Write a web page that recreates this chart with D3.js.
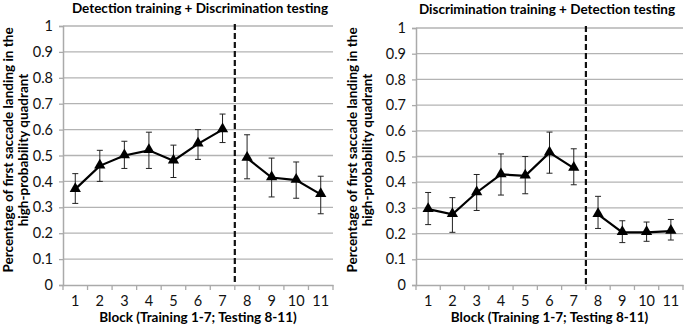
<!DOCTYPE html>
<html><head><meta charset="utf-8">
<script src="https://cdn.jsdelivr.net/npm/d3@7"></script>
<style>body{margin:0;background:#fff}svg{display:block}</style>
</head><body>
<svg id="c" width="685" height="325"></svg>
<script>
const blocks = [1,2,3,4,5,6,7,8,9,10,11];
const yTicks = [0,0.1,0.2,0.3,0.4,0.5,0.6,0.7,0.8,0.9,1];
const titleLeft = "Detection training + Discrimination testing";
const titleRight = "Discrimination training + Detection testing";
const xTitle = "Block (Training 1-7; Testing 8-11)";
const yTitle1 = "Percentage of first saccade landing in the";
const yTitle2 = "high-probability quadrant";
const leftMean = [0.37,0.46,0.50,0.52,0.48,0.545,0.60,0.49,0.415,0.405,0.35];
const leftLow  = [0.315,0.40,0.45,0.45,0.415,0.485,0.55,0.41,0.34,0.335,0.275];
const leftHigh = [0.43,0.52,0.555,0.59,0.54,0.60,0.66,0.58,0.49,0.475,0.42];
const rightMean = [0.295,0.275,0.36,0.43,0.425,0.515,0.455,0.275,0.205,0.205,0.21];
const rightLow  = [0.235,0.205,0.29,0.35,0.355,0.435,0.39,0.22,0.165,0.17,0.175];
const rightHigh = [0.36,0.34,0.43,0.51,0.50,0.595,0.53,0.345,0.25,0.245,0.255];

const svg = d3.select("#c");
const font = "Lato, 'Open Sans', sans-serif";

function panel(cfg){
  const g = svg.append("g");
  const x = d3.scaleBand().domain(blocks).range([cfg.x0, cfg.x1]);
  const y = d3.scaleLinear().domain([0,1]).range([cfg.y0, cfg.y1]);
  g.append("g").selectAll("line").data(yTicks.slice(1)).join("line")
    .attr("x1", cfg.x0).attr("x2", cfg.x1)
    .attr("y1", d=>y(d)).attr("y2", d=>y(d))
    .attr("stroke","#b3b3b3").attr("stroke-width",1.3);
  const ya = g.append("g").attr("transform",`translate(${cfg.x0},0)`)
    .call(d3.axisLeft(y).tickValues(yTicks).tickSize(4).tickPadding(6).tickFormat(d=>d3.format("")(d)));
  ya.select(".domain").attr("stroke","#aaaaaa").attr("stroke-width",1.5);
  ya.selectAll(".tick line").attr("stroke","#aaaaaa").attr("stroke-width",1.3);
  ya.selectAll("text").attr("font-family",font).attr("font-size",14.5).attr("fill","#111");
  const xa = g.append("g").attr("transform",`translate(0,${cfg.y0})`)
    .call(d3.axisBottom(x).tickSize(0).tickPadding(11));
  xa.select(".domain").attr("stroke","#aaaaaa").attr("stroke-width",1.5);
  xa.selectAll("text").attr("font-family",font).attr("font-size",14.5).attr("fill","#111");
  const bounds = blocks.map(b=>x(b)).concat([cfg.x1]);
  g.append("g").selectAll("line").data(bounds).join("line")
    .attr("x1",d=>d).attr("x2",d=>d).attr("y1",cfg.y0).attr("y2",cfg.y0+5)
    .attr("stroke","#aaaaaa").attr("stroke-width",1.3);
  const dx = x(8);
  g.append("line").attr("x1",dx).attr("x2",dx).attr("y1",cfg.y1-2).attr("y2",cfg.y0)
    .attr("stroke","#111").attr("stroke-width",2.2).attr("stroke-dasharray","6,3");
  const cx = b=>x(b)+x.bandwidth()/2;
  const pts = blocks.map((b,i)=>({b, m:cfg.mean[i], lo:cfg.low[i], hi:cfg.high[i]}));
  const eb = g.append("g").attr("stroke","#222").attr("stroke-width",1);
  eb.selectAll("line.v").data(pts).join("line").attr("class","v")
    .attr("x1",d=>cx(d.b)).attr("x2",d=>cx(d.b)).attr("y1",d=>y(d.lo)).attr("y2",d=>y(d.hi));
  eb.selectAll("line.t").data(pts).join("line").attr("class","t")
    .attr("x1",d=>cx(d.b)-3).attr("x2",d=>cx(d.b)+3).attr("y1",d=>y(d.hi)).attr("y2",d=>y(d.hi));
  eb.selectAll("line.l").data(pts).join("line").attr("class","l")
    .attr("x1",d=>cx(d.b)-3).attr("x2",d=>cx(d.b)+3).attr("y1",d=>y(d.lo)).attr("y2",d=>y(d.lo));
  const line = d3.line().x(d=>cx(d.b)).y(d=>y(d.m));
  [pts.filter(d=>d.b<=7), pts.filter(d=>d.b>=8)].forEach(seg=>{
    g.append("path").attr("d",line(seg)).attr("fill","none").attr("stroke","#000").attr("stroke-width",2.2);
  });
  const tri = d3.symbol().type(d3.symbolTriangle).size(55);
  g.append("g").selectAll("path").data(pts).join("path")
    .attr("d",tri).attr("transform",d=>`translate(${cx(d.b)},${y(d.m)-0.5})`).attr("fill","#000");
  g.append("text").attr("x",cfg.tx).attr("y",cfg.ty).attr("text-anchor","middle")
    .attr("font-family",font).attr("font-weight","bold").attr("font-size",13.5).text(cfg.title);
  g.append("text").attr("x",(cfg.x0+cfg.x1)/2).attr("y",322).attr("text-anchor","middle")
    .attr("font-family",font).attr("font-weight","bold").attr("font-size",13.5).text(xTitle);
  const yc = 150;
  g.append("text").attr("transform",`translate(${cfg.yt1},${yc}) rotate(-90)`).attr("text-anchor","middle")
    .attr("font-family",font).attr("font-weight","bold").attr("font-size",13.5).text(yTitle1);
  g.append("text").attr("transform",`translate(${cfg.yt2},${yc}) rotate(-90)`).attr("text-anchor","middle")
    .attr("font-family",font).attr("font-weight","bold").attr("font-size",13.5).text(yTitle2);
}

panel({x0:63,x1:333,y0:285,y1:26,mean:leftMean,low:leftLow,high:leftHigh,title:titleLeft,tx:200,ty:13,yt1:13,yt2:28});
panel({x0:416,x1:683,y0:285,y1:28,mean:rightMean,low:rightLow,high:rightHigh,title:titleRight,tx:547,ty:14,yt1:357,yt2:372});
</script>
</body></html>
